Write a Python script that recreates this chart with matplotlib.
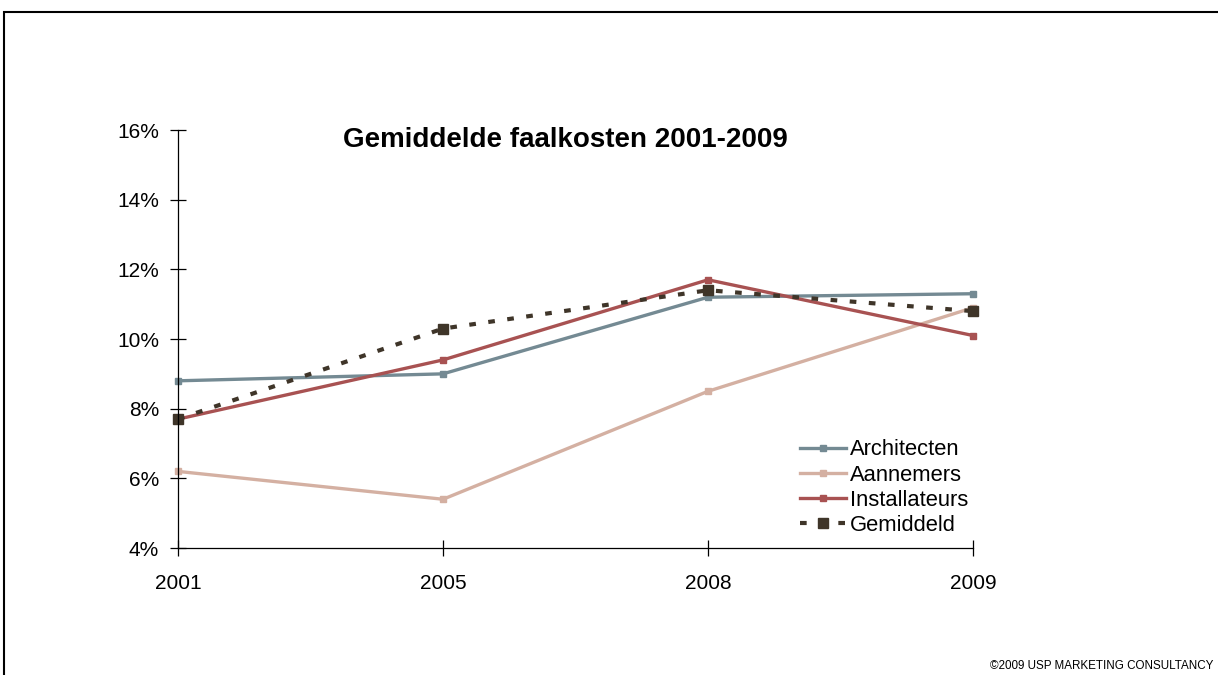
import matplotlib
matplotlib.use("Agg")
import matplotlib.pyplot as plt
from matplotlib.patches import Rectangle
from matplotlib.ticker import FuncFormatter

plt.rcParams['font.family'] = ['Liberation Sans', 'DejaVu Sans']

years = ['2001', '2005', '2008', '2009']
architecten = [8.8, 9.0, 11.2, 11.3]
aannemers = [6.2, 5.4, 8.5, 10.9]
installateurs = [7.7, 9.4, 11.7, 10.1]
gemiddeld = [7.7, 10.3, 11.4, 10.8]

fig = plt.figure(figsize=(12.18, 6.75), dpi=100)
ax = fig.add_axes([0.1461, 0.1881, 0.6528, 0.6193])

x = range(len(years))
ax.plot(x, architecten, color='#748a93', lw=2.4, marker='s', ms=5, label='Architecten')
ax.plot(x, aannemers, color='#d4b0a2', lw=2.4, marker='s', ms=5, label='Aannemers')
ax.plot(x, installateurs, color='#a85252', lw=2.4, marker='s', ms=5, label='Installateurs')
ax.plot(x, gemiddeld, color='#3f3529', lw=3, ls=(0, (1.6, 3)), marker='s', ms=6.5,
        label='Gemiddeld')

ax.set_xlim(0, 3)
ax.set_ylim(4, 16)
ax.set_xticks(list(x))
ax.set_xticklabels(years)
ax.set_yticks([4, 6, 8, 10, 12, 14, 16])
ax.yaxis.set_major_formatter(FuncFormatter(lambda v, p: f"{v:.0f}%"))

for s in ['top', 'right']:
    ax.spines[s].set_visible(False)
for s in ['left', 'bottom']:
    ax.spines[s].set_linewidth(0.9)
    ax.spines[s].set_color('black')
ax.tick_params(axis='both', direction='inout', length=11, width=0.9, labelsize=15)
ax.tick_params(axis='y', pad=8)
ax.tick_params(axis='x', pad=13)
for ln in ax.get_lines():
    ln.set_clip_on(False)

fig.text(0.464, 0.793, 'Gemiddelde faalkosten 2001-2009', ha='center', va='center',
         fontsize=20, fontweight='bold')

ax.legend(loc='upper left', bbox_to_anchor=(0.657, 0.349), bbox_transform=fig.transFigure,
          frameon=False, fontsize=15.8, labelspacing=0.19, handlelength=2.1,
          handletextpad=0.15, borderaxespad=0, borderpad=0)

fig.patches.append(Rectangle((0.0033, -0.05), 1.2, 1.032, transform=fig.transFigure,
                             fill=False, edgecolor='black', lw=1.5))

fig.text(0.8125, 0.004, '\u00a92009 USP MARKETING CONSULTANCY', fontsize=8.4, ha='left',
         va='bottom')

fig.savefig('out.png', dpi=100)
